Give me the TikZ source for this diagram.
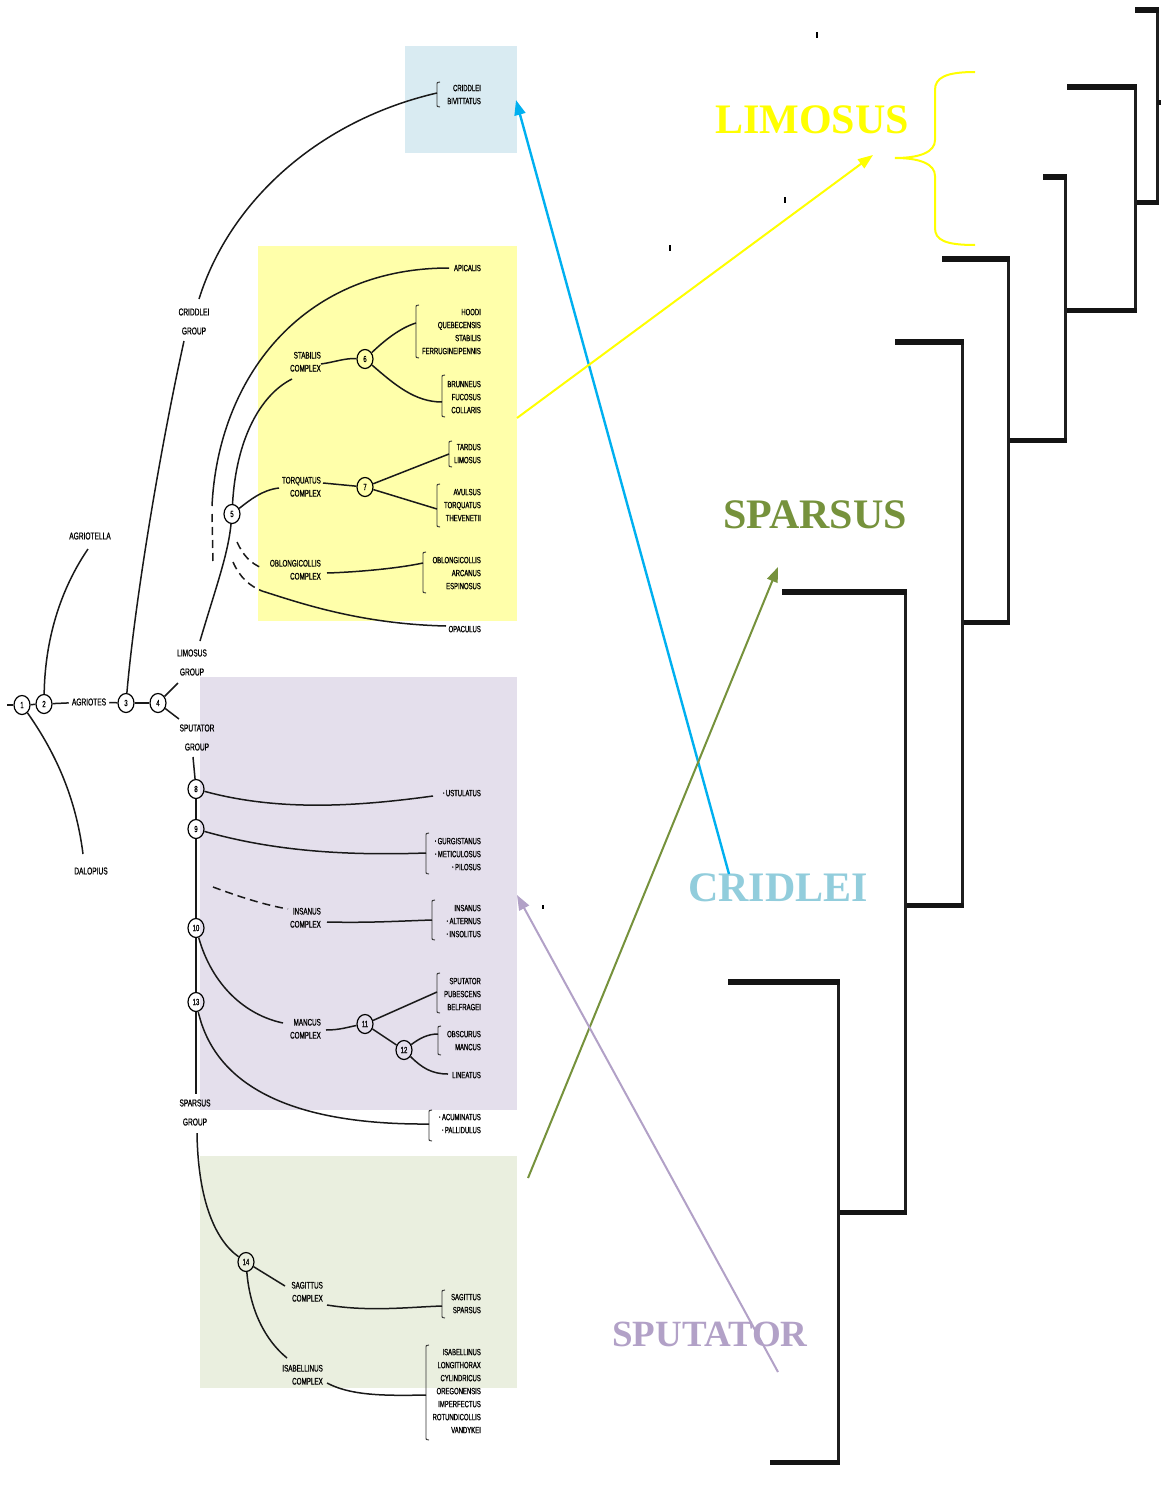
\documentclass[tikz,border=0pt]{standalone}
\usepackage{fontspec}
\setmainfont{Liberation Serif}
\newfontfamily\cf[FakeStretch=0.66,FakeBold=0.8]{Liberation Sans}
\usetikzlibrary{shapes.geometric,arrows.meta}
\definecolor{bxblue}{RGB}{217,235,242}
\definecolor{bxyellow}{RGB}{255,255,170}
\definecolor{bxpurple}{RGB}{228,223,236}
\definecolor{bxgreen}{RGB}{234,239,223}
\definecolor{arblue}{RGB}{0,176,240}
\definecolor{aryellow}{RGB}{255,255,0}
\definecolor{argreen}{RGB}{118,146,60}
\definecolor{arpurple}{RGB}{178,161,199}
\definecolor{lbblue}{RGB}{146,205,220}
\newcommand\bul{\raisebox{0.3ex}{\scalebox{0.55}{\textbullet}}\ }
\newcommand\mybrk[3]{\draw[brk] ({#1+3},#2) .. controls (#1,#2) .. (#1,{#2+4}) -- (#1,{#3-4}) .. controls (#1,#3) .. ({#1+3},#3);}
\begin{document}
\begin{tikzpicture}[x=1pt,y=-1pt,
  br/.style={line width=1.5pt, draw=black!90},
  dsh/.style={line width=1.5pt, draw=black!90, dash pattern=on 8pt off 5pt},
  brk/.style={line width=0.9pt, draw=black!80},
  sp/.style={font=\cf\fontsize{9}{13}\selectfont, inner sep=0pt, align=right, anchor=north east},
  cx/.style={font=\cf\fontsize{9.5}{13}\selectfont, inner sep=0pt, align=right, anchor=north east},
  gp/.style={font=\cf\fontsize{10}{19}\selectfont, inner sep=0pt, align=center},
  num/.style={draw, ellipse, line width=1.2pt, minimum width=16pt, minimum height=19pt, inner sep=0pt, font=\cf\fontsize{9}{9}\selectfont},
  leafbar/.style={line width=6pt, draw=black!92},
  basebar/.style={line width=5pt, draw=black!92},
  stem/.style={line width=3pt, draw=black!88},
  biglbl/.style={font=\fontsize{42}{42}\selectfont\bfseries, inner sep=0pt},
  arr/.style={line width=2pt, -{Triangle[length=15pt,width=11pt]}}
]
\useasboundingbox (0,0) rectangle (1161,1493);
\fill[white] (0,0) rectangle (1161,1493);

% coloured boxes
\fill[bxblue] (405,46) rectangle (517,153);
\fill[bxyellow] (258,246) rectangle (517,621);
\fill[bxpurple] (200,677) rectangle (517,1110);
\fill[bxgreen] (200,1156) rectangle (517,1388);

% numbered nodes
\node[num] (n1) at (22,705) {1};
\node[num] (n2) at (44,704) {2};
\node[num] (n3) at (126,703) {3};
\node[num] (n4) at (158,703) {4};
\node[num] (n5) at (232,514) {5};
\node[num] (n6) at (365,359) {6};
\node[num] (n7) at (365,487) {7};
\node[num] (n8) at (196,789) {8};
\node[num] (n9) at (196,829) {9};
\node[num] (n10) at (196,928) {10};
\node[num] (n13) at (196,1002) {13};
\node[num] (n11) at (365,1024) {11};
\node[num] (n12) at (404,1050) {12};
\node[num] (n14) at (246,1262) {14};

% outer labels
\node[gp] (agrella) at (90,536) {AGRIOTELLA};
\node[gp] (dalo) at (91,871) {DALOPIUS};
\node[gp, inner xsep=3pt] (agr) at (89,702) {AGRIOTES};
\node[gp] (gCri) at (194,321.5) {CRIDDLEI\\GROUP};
\node[gp] (gLim) at (192,662.5) {LIMOSUS\\GROUP};
\node[gp] (gSpu) at (197,737.5) {SPUTATOR\\GROUP};
\node[gp] (gSpa) at (195,1112.5) {SPARSUS\\GROUP};

% complex labels
\node[cx] (cStab) at (321,351.7) {STABILIS\\COMPLEX};
\node[cx] (cTorq) at (321,476.7) {TORQUATUS\\COMPLEX};
\node[cx] (cOblo) at (321,559.7) {OBLONGICOLLIS\\COMPLEX};
\node[cx] (cIns) at (321,907.7) {INSANUS\\COMPLEX};
\node[cx] (cManc) at (321,1018.7) {MANCUS\\COMPLEX};
\node[cx] (cSag) at (323,1281.7) {SAGITTUS\\COMPLEX};
\node[cx] (cIsa) at (323,1364.7) {ISABELLINUS\\COMPLEX};

% species
\node[sp] (sCri) at (481,84.7) {CRIDDLEI\\BIVITTATUS};
\node[sp] (sApi) at (481,264.7) {APICALIS};
\node[sp] (sHoo) at (481,308.7) {HOODI\\QUEBECENSIS\\STABILIS\\FERRUGINEIPENNIS};
\node[sp] (sBru) at (481,380.7) {BRUNNEUS\\FUCOSUS\\COLLARIS};
\node[sp] (sTar) at (481,443.7) {TARDUS\\LIMOSUS};
\node[sp] (sAvu) at (481,488.7) {AVULSUS\\TORQUATUS\\THEVENETII};
\node[sp] (sObl) at (481,556.7) {OBLONGICOLLIS\\ARCANUS\\ESPINOSUS};
\node[sp] (sOpa) at (481,625.7) {OPACULUS};
\node[sp] (sUst) at (481,789.7) {\bul USTULATUS};
\node[sp] (sGur) at (481,837.7) {\bul GURGISTANUS\\\bul METICULOSUS\\\bul PILOSUS};
\node[sp] (sIns) at (481,904.7) {INSANUS\\\bul ALTERNUS\\\bul INSOLITUS};
\node[sp] (sSpu) at (481,977.7) {SPUTATOR\\PUBESCENS\\BELFRAGEI};
\node[sp] (sObs) at (481,1030.7) {OBSCURUS\\MANCUS};
\node[sp] (sLin) at (481,1071.7) {LINEATUS};
\node[sp] (sAcu) at (481,1113.7) {\bul ACUMINATUS\\\bul PALLIDULUS};
\node[sp] (sSag) at (481,1293.7) {SAGITTUS\\SPARSUS};
\node[sp] (sIsa) at (481,1348.7) {ISABELLINUS\\LONGITHORAX\\CYLINDRICUS\\OREGONENSIS\\IMPERFECTUS\\ROTUNDICOLLIS\\VANDYKEI};

% brackets
\mybrk{437}{82}{107}
\mybrk{416}{305}{358}
\mybrk{442}{375}{417}
\mybrk{449}{441}{467}
\mybrk{437}{484}{527}
\mybrk{423}{552}{593}
\mybrk{426}{833}{874}
\mybrk{432}{900}{940}
\mybrk{437}{973}{1013}
\mybrk{438}{1026}{1055}
\mybrk{429}{1110}{1141}
\mybrk{442}{1290}{1318}
\mybrk{426}{1345}{1440}
\coordinate (jCri) at (437,93);
\coordinate (jHoo) at (416,323);
\coordinate (jBru) at (442,402);
\coordinate (jTar) at (449,454);
\coordinate (jAvu) at (437,509);
\coordinate (jObl) at (423,563);
\coordinate (jGur) at (426,853);
\coordinate (jIns) at (432,920);
\coordinate (jSpu) at (437,992);
\coordinate (jObs) at (438,1034);
\coordinate (jAcu) at (429,1124);
\coordinate (jSag) at (442,1306);
\coordinate (jIsa) at (426,1395);
\coordinate (eApi) at (449,268);
\coordinate (eOpa) at (446,626);
\coordinate (eUst) at (433,796);
\coordinate (eLin) at (448,1074);

% base of tree
\coordinate (r0) at (7,705);
\draw[br] (r0) -- (n1);
\draw[br] (n1) -- (n2);
\draw[br] (n2) -- (agr);
\draw[br] (agr) -- (n3);
\draw[br] (n3) -- (n4);
\coordinate (e4u) at (178,683);
\coordinate (e4d) at (179,719);
\draw[br] (n4) -- (e4u);
\draw[br] (n4) -- (e4d);
\coordinate (eAgl) at (88,549);
\draw[br] (n2) .. controls (45,640) and (60,590) .. (eAgl);
\coordinate (eDal) at (83,854);
\draw[br] (n1) .. controls (50,745) and (75,790) .. (eDal);

% criddlei group
\coordinate (cr1) at (184,341);
\draw[br] (n3) .. controls (135,600) and (160,450) .. (cr1);
\coordinate (cr2) at (199,299);
\draw[br] (cr2) .. controls (230,200) and (320,120) .. (jCri);

% limosus group
\coordinate (li1) at (200,641);
\draw[br] (li1) .. controls (215,590) and (228,555) .. (n5);
\coordinate (eStab) at (292,379);
\draw[br] (n5) .. controls (236,440) and (260,395) .. (eStab);
\coordinate (api0) at (212,506);
\coordinate (api0b) at (212,514);
\coordinate (api1) at (213,562);
\draw[br] (api0) .. controls (218,380) and (300,268) .. (eApi);
\draw[dsh] (api0b) -- (api1);
\coordinate (eTq) at (279,488);
\draw[br] (n5) .. controls (250,500) and (262,490) .. (eTq);
\coordinate (t7) at (323,483);
\draw[br] (t7) -- (n7);
\coordinate (s6) at (321,364);
\draw[br] (s6) .. controls (335,362) and (345,358) .. (n6);
\draw[br] (n6) .. controls (385,340) and (400,328) .. (jHoo);
\draw[br] (n6) .. controls (395,385) and (415,402) .. (jBru);
\draw[br] (n7) -- (jTar);
\draw[br] (n7) -- (jAvu);
\coordinate (ob0) at (237,542);
\coordinate (ob1) at (262,568);
\draw[dsh] (ob0) .. controls (243,555) and (250,563) .. (ob1);
\coordinate (ob2) at (327,573);
\draw[br] (ob2) .. controls (360,572) and (400,568) .. (jObl);
\coordinate (op0) at (233,562);
\coordinate (op1) at (262,591);
\draw[dsh] (op0) .. controls (240,578) and (250,586) .. (op1);
\draw[br] (op1) .. controls (300,603) and (360,624) .. (eOpa);

% sputator group
\coordinate (sp0) at (193,757);
\draw[br] (sp0) -- (n8);
\draw[br] (n8) -- (n9);
\draw[br] (n9) -- (n10);
\draw[br] (n10) -- (n13);
\coordinate (sa0) at (196,1094);
\draw[br] (n13) -- (sa0);
\draw[br] (n8) .. controls (280,812) and (360,806) .. (eUst);
\draw[br] (n9) .. controls (270,850) and (340,856) .. (jGur);
\coordinate (in0) at (213,887);
\coordinate (in1) at (288,909);
\draw[dsh] (in0) .. controls (240,897) and (265,905) .. (in1);
\coordinate (in2) at (327,922);
\draw[br] (in2) .. controls (370,923) and (400,921) .. (jIns);
\coordinate (mc0) at (283,1023);
\draw[br] (n10) .. controls (212,985) and (245,1015) .. (mc0);
\coordinate (mc1) at (326,1030);
\draw[br] (mc1) .. controls (340,1030) and (348,1027) .. (n11);
\draw[br] (n11) -- (jSpu);
\draw[br] (n11) -- (n12);
\draw[br] (n12) .. controls (420,1038) and (428,1034) .. (jObs);
\draw[br] (n12) .. controls (422,1068) and (432,1074) .. (eLin);
\draw[br] (n13) .. controls (215,1085) and (290,1125) .. (jAcu);

% sparsus group
\coordinate (sa1) at (197,1133);
\draw[br] (sa1) .. controls (198,1200) and (215,1240) .. (n14);
\coordinate (sg0) at (285,1286);
\draw[br] (n14) -- (sg0);
\coordinate (sg1) at (327,1305);
\draw[br] (sg1) .. controls (370,1312) and (410,1307) .. (jSag);
\coordinate (is0) at (287,1358);
\draw[br] (n14) .. controls (250,1310) and (265,1340) .. (is0);
\coordinate (is1) at (327,1383);
\draw[br] (is1) .. controls (350,1395) and (380,1396) .. (jIsa);

% right-hand dendrogram
\draw[stem] (1157,10) -- (1157,202);
\draw[leafbar] (1135,10) -- (1159,10);
\draw[basebar] (1135,202) -- (1159,202);
\draw[basebar] (1157,103) -- (1161,103);
\draw[stem] (1135,87) -- (1135,310);
\draw[leafbar] (1067,87) -- (1137,87);
\draw[basebar] (1065,310) -- (1137,310);
\draw[stem] (1065,177) -- (1065,440);
\draw[leafbar] (1043,177) -- (1067,177);
\draw[basebar] (1008,440) -- (1067,440);
\draw[stem] (1008,259) -- (1008,622);
\draw[leafbar] (942,259) -- (1010,259);
\draw[basebar] (962,622) -- (1010,622);
\draw[stem] (962,342) -- (962,905);
\draw[leafbar] (895,342) -- (964,342);
\draw[basebar] (905,905) -- (964,905);
\draw[stem] (905,592) -- (905,1212);
\draw[leafbar] (782,592) -- (907,592);
\draw[basebar] (838,1212) -- (907,1212);
\draw[stem] (838,982) -- (838,1462);
\draw[leafbar] (728,982) -- (840,982);
\draw[basebar] (770,1462) -- (840,1462);

% specks
\fill (816,32) rectangle (818,38);
\fill (784,197) rectangle (786,203);
\fill (669,245) rectangle (671,251);
\fill (542,905) rectangle (544,909);

% big labels
\node[biglbl, text=aryellow] (lLim) at (812,120) {LIMOSUS};
\node[biglbl, text=argreen] (lSpa) at (815,515) {SPARSUS};
\node[biglbl, text=lbblue] (lCri) at (778,888) {CRIDLEI};
\node[biglbl, font=\fontsize{37}{37}\selectfont\bfseries, text=arpurple] (lSpu) at (710,1334) {SPUTATOR};

% brace
\draw[aryellow, line width=2pt] (975,72) .. controls (945,72) and (935,78) .. (935,90) -- (935,140) .. controls (935,152) and (920,158) .. (895,158) .. controls (920,158) and (935,164) .. (935,176) -- (935,228) .. controls (935,240) and (945,245) .. (975,245);

% arrows
\coordinate (aBs) at (729,874);
\coordinate (aBe) at (516,100);
\coordinate (aYs) at (517,418);
\coordinate (aYe) at (873,155);
\coordinate (aGs) at (528,1178);
\coordinate (aGe) at (778,567);
\coordinate (aPs) at (778,1372);
\coordinate (aPe) at (517,895);
\draw[arr, arblue, line width=2.4pt] (aBs) -- (aBe);
\draw[arr, aryellow] (aYs) -- (aYe);
\draw[arr, argreen] (aGs) -- (aGe);
\draw[arr, arpurple] (aPs) -- (aPe);
\end{tikzpicture}
\end{document}
